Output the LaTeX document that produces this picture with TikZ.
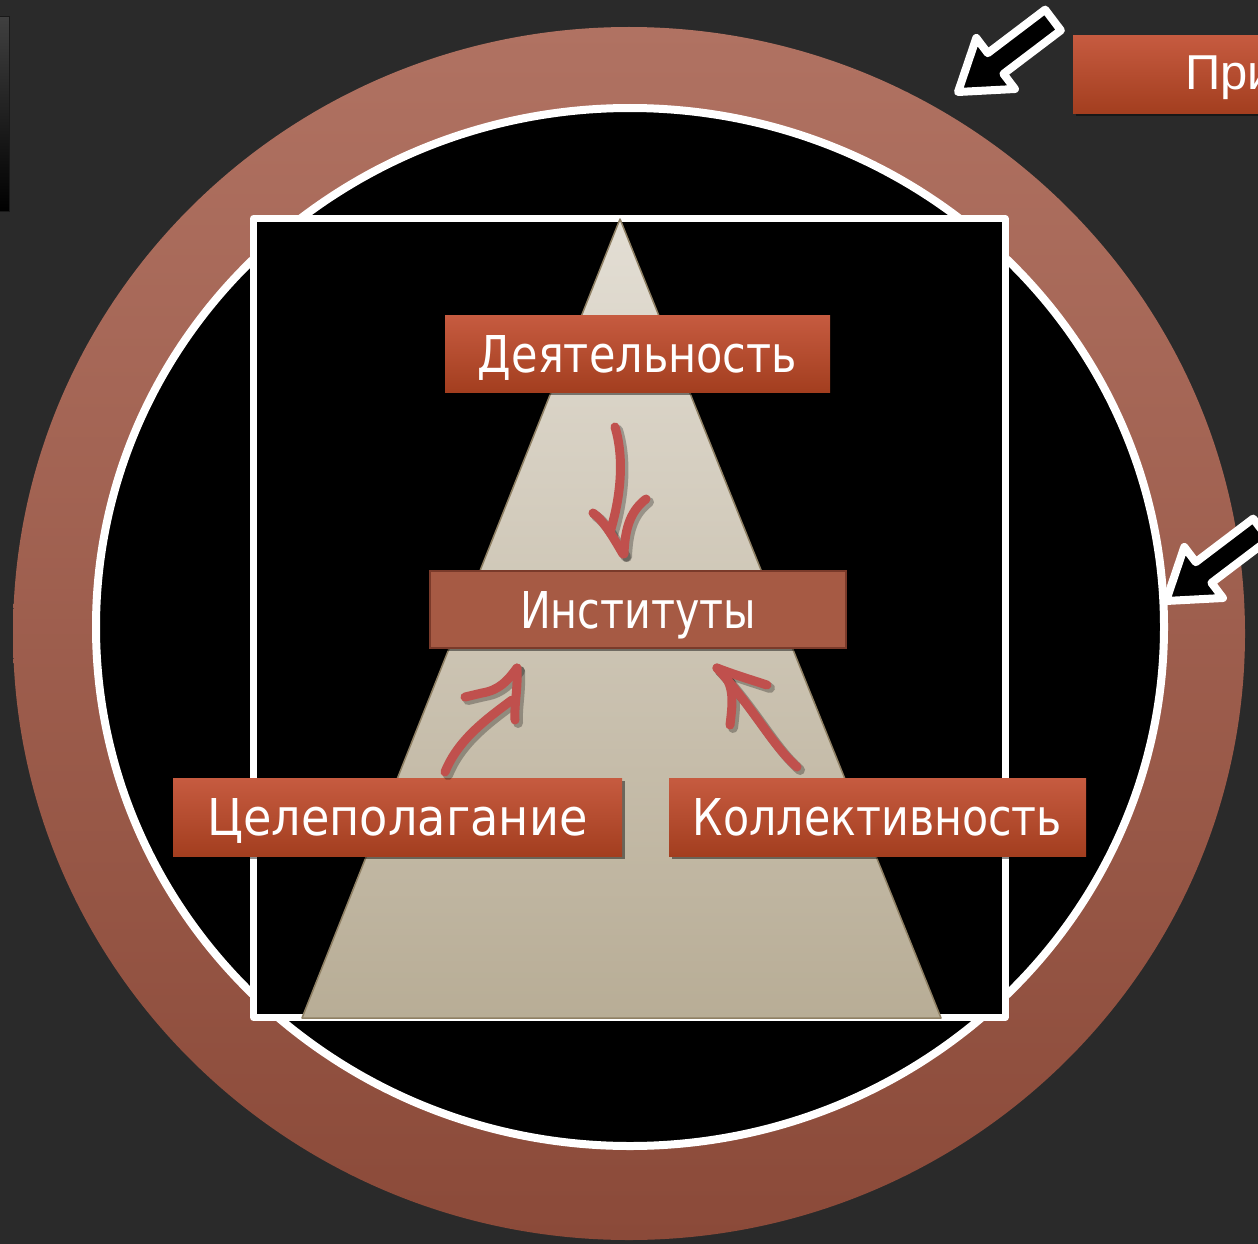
\documentclass[tikz,border=0pt]{standalone}
\usepackage{fontspec}
\usepackage{graphicx}
\setmainfont{DejaVu Sans}
\newfontfamily\arialf{Liberation Sans}
\usetikzlibrary{calc,shadows}
\definecolor{bg}{HTML}{2A2A2A}
\definecolor{ringtop}{HTML}{B07262}
\definecolor{ringbot}{HTML}{8B4A39}
\definecolor{boxtop}{HTML}{C65B40}
\definecolor{boxbot}{HTML}{A33E1F}
\definecolor{instfill}{HTML}{A65A44}
\definecolor{instedge}{HTML}{7A3A2A}
\definecolor{tritop}{HTML}{E3DED4}
\definecolor{tribot}{HTML}{B8AD96}
\definecolor{triedge}{HTML}{8F8064}
\definecolor{sq}{HTML}{C0504D}
\newcommand{\lbl}[2]{\resizebox{#1pt}{37pt}{\fontsize{44}{44}\selectfont #2}}
\tikzset{
  redbox/.style={inner sep=0pt, top color=boxtop, bottom color=boxbot, draw=none, text=white,
    text height=37pt, text depth=0pt,
    drop shadow={shadow xshift=3pt, shadow yshift=-3pt, opacity=0.45, fill=black}},
  instbox/.style={inner sep=0pt, fill=instfill, draw=instedge, line width=2pt, text=white,
    text height=37pt, text depth=0pt,
    drop shadow={shadow xshift=3pt, shadow yshift=-3pt, opacity=0.45, fill=black}},
  blockarrow/.style={draw=white, line width=8pt, fill=black, line join=round},
  squig/.style={draw=sq, line width=9pt, line cap=round, line join=round},
  squigsh/.style={draw=black, opacity=0.28, line width=10pt, line cap=round, line join=round, shift={(3,3)}},
}
\newcommand{\blockarrow}[2]{%
  \coordinate (T) at #1; \coordinate (P) at #2;
  \coordinate (H) at ($(T)!72pt!(P)$);
  \draw[blockarrow] ($(T)!13pt!90:(P)$) -- ($(H)!13pt!-90:(T)$) -- ($(H)!32pt!-90:(T)$) -- (P)
    -- ($(H)!32pt!90:(T)$) -- ($(H)!13pt!90:(T)$) -- ($(T)!13pt!-90:(P)$) -- cycle;
}
\begin{document}
\begin{tikzpicture}[x=1pt,y=-1pt]
\useasboundingbox (0,0) rectangle (1258,1244);
\fill[bg] (0,0) rectangle (1258,1244);
% small box at left
\shade[top color=black!75, bottom color=black, draw=black!90, line width=1pt] (-5,17) rectangle (9,211);
% outer ring
\shade[top color=ringtop, bottom color=ringbot] (629,633.5) ellipse [x radius=616, y radius=606.5];
% inner black disc with white rim
\draw[white, line width=8pt, fill=black] (630,627) ellipse [x radius=534, y radius=519];
% frame
\draw[white, line width=7pt, fill=black, line join=round] (253.5,218.5) rectangle (1005,1017.5);
% pyramid
\shade[top color=tritop, bottom color=tribot] (620,219) -- (941,1018) -- (302,1018) -- cycle;
\draw[triedge, line width=1.5pt, line join=round] (620,219) -- (941,1018) -- (302,1018) -- cycle;
% boxes
\node[redbox, minimum width=385pt, minimum height=77pt] (deyat) at (637.5,353.5) {\lbl{319}{Деятельность}};
\node[instbox, minimum width=416pt, minimum height=77pt] (inst) at (638,609.5) {\lbl{236}{Институты}};
\node[redbox, minimum width=449pt, minimum height=78pt] (tsel) at (397.5,817) {\lbl{380}{Целеполагание}};
\node[redbox, minimum width=417pt, minimum height=78pt] (koll) at (877.5,817) {\lbl{369}{Коллективность}};
% top-right box
\node[redbox, minimum width=220pt, minimum height=78pt, anchor=north west] (pri) at (1073,35) {};
\node[anchor=base west, inner sep=0pt, text=white, font=\arialf\fontsize{49}{49}\selectfont] (pritext) at (1185,90) {При};
% block arrows
\blockarrow{(1053,20)}{(958,92)}
\blockarrow{(1261,529)}{(1166,601)}
% hand-drawn arrows: shadows
\begin{scope}
\draw[squigsh] (615,427) .. controls (625,460) and (620,500) .. (610,532);
\draw[squigsh] (593,513) .. controls (603,520) and (612,535) .. (623,554);
\draw[squigsh] (646,499) .. controls (632,510) and (625,525) .. (624,554);
\draw[squigsh] (445,772) .. controls (458,740) and (485,720) .. (512,700);
\draw[squigsh] (517,668) .. controls (518,690) and (514,705) .. (515,720);
\draw[squigsh] (465,697) -- (482,693) .. controls (500,690) and (508,680) .. (517,668);
\draw[squigsh] (797,767) .. controls (772,745) and (755,710) .. (717,668);
\draw[squigsh] (717,668) .. controls (735,682) and (733,700) .. (730,725);
\draw[squigsh] (717,668) .. controls (735,675) and (752,680) .. (767,685);
\end{scope}
% hand-drawn arrows
\draw[squig] (615,427) .. controls (625,460) and (620,500) .. (610,532);
\draw[squig] (593,513) .. controls (603,520) and (612,535) .. (623,554);
\draw[squig] (646,499) .. controls (632,510) and (625,525) .. (624,554);
\draw[squig] (445,772) .. controls (458,740) and (485,720) .. (512,700);
\draw[squig] (517,668) .. controls (518,690) and (514,705) .. (515,720);
\draw[squig] (465,697) -- (482,693) .. controls (500,690) and (508,680) .. (517,668);
\draw[squig] (797,767) .. controls (772,745) and (755,710) .. (717,668);
\draw[squig] (717,668) .. controls (735,682) and (733,700) .. (730,725);
\draw[squig] (717,668) .. controls (735,675) and (752,680) .. (767,685);
\end{tikzpicture}
\end{document}
